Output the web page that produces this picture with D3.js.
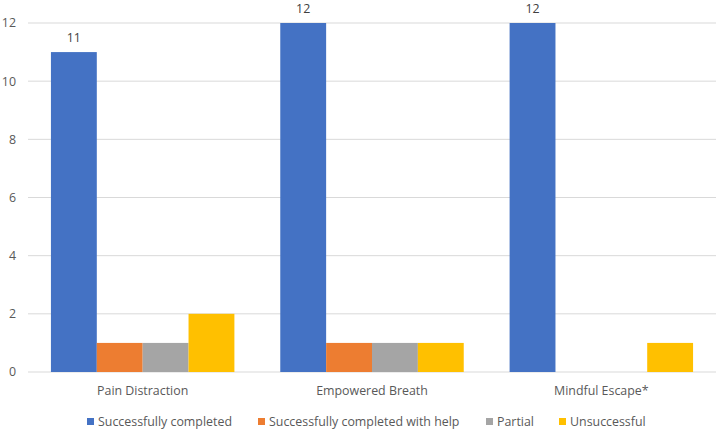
<!DOCTYPE html>
<html lang="en">
<head>
<meta charset="UTF-8">
<title>Exercise outcomes</title>
<script src="https://d3js.org/d3.v7.min.js"></script>
<style>
    body { margin: 0; background: #fff; font-family: "Open Sans", Arial, sans-serif; }
    svg text { fill: #595959; font-size: 12.4px; }
    .grid line { stroke: #d9d9d9; }
    .label { fill: #404040; }
</style>
</head>
<body>
<svg id="chart" width="720" height="431"></svg>
<script>
    const categories = ["Pain Distraction", "Empowered Breath", "Mindful Escape*"];
    const seriesNames = ["Successfully completed", "Successfully completed with help", "Partial", "Unsuccessful"];
    const successfullyCompleted = [11, 12, 12];
    const completedWithHelp = [1, 1, 0];
    const partial = [1, 1, 0];
    const unsuccessful = [2, 1, 1];
    const yTicks = [0, 2, 4, 6, 8, 10, 12];
    const colors = ["#4472c4", "#ed7d31", "#a5a5a5", "#ffc000"];

    const values = [successfullyCompleted, completedWithHelp, partial, unsuccessful];
    const data = categories.map((c, i) => ({
        cat: c,
        vals: seriesNames.map((s, j) => ({ series: s, idx: j, v: values[j][i] }))
    }));

    const svg = d3.select("#chart");
    const margin = { top: 23, right: 4, bottom: 59, left: 28 };
    const width = +svg.attr("width") - margin.left - margin.right;
    const height = +svg.attr("height") - margin.top - margin.bottom;
    const g = svg.append("g").attr("transform", `translate(${margin.left},${margin.top})`);

    const x0 = d3.scaleBand().domain(categories).range([0, width]).paddingInner(0.2).paddingOuter(0.1);
    const x1 = d3.scaleBand().domain(seriesNames).range([0, x0.bandwidth()]);
    const y = d3.scaleLinear().domain([0, 12]).range([height, 0]);

    // gridlines
    g.append("g").attr("class", "grid")
        .selectAll("line").data(yTicks).enter().append("line")
        .attr("x1", 0).attr("x2", width)
        .attr("y1", d => y(d)).attr("y2", d => y(d));

    // y labels
    g.append("g").selectAll("text").data(yTicks).enter().append("text")
        .attr("x", -12).attr("y", d => y(d)).attr("dy", "0.35em")
        .attr("text-anchor", "end").text(d => d);

    // bars
    const groups = g.selectAll(".grp").data(data).enter().append("g")
        .attr("class", "grp")
        .attr("transform", d => `translate(${x0(d.cat)},0)`);

    groups.selectAll("rect").data(d => d.vals).enter().append("rect")
        .attr("x", d => x1(d.series))
        .attr("width", x1.bandwidth())
        .attr("y", d => y(d.v))
        .attr("height", d => height - y(d.v))
        .attr("fill", d => colors[d.idx]);

    // data labels on the first series only
    groups.append("text").attr("class", "label")
        .attr("x", x1(seriesNames[0]) + x1.bandwidth() / 2)
        .attr("y", d => y(d.vals[0].v) - 10)
        .attr("text-anchor", "middle")
        .text(d => d.vals[0].v);

    // category labels
    g.append("g").selectAll("text").data(categories).enter().append("text")
        .attr("x", d => x0(d) + x0.bandwidth() / 2)
        .attr("y", height + 23)
        .attr("text-anchor", "middle").text(d => d);

    // legend
    const legendX = [87, 258, 486, 559];
    const legend = svg.append("g").selectAll("g").data(seriesNames).enter().append("g")
        .attr("transform", (d, i) => `translate(${legendX[i]},422)`);
    legend.append("rect").attr("x", 0).attr("y", -4).attr("width", 7).attr("height", 7)
        .attr("fill", (d, i) => colors[i]);
    legend.append("text").attr("x", 11).attr("dy", "0.35em").text(d => d);
</script>
</body>
</html>
